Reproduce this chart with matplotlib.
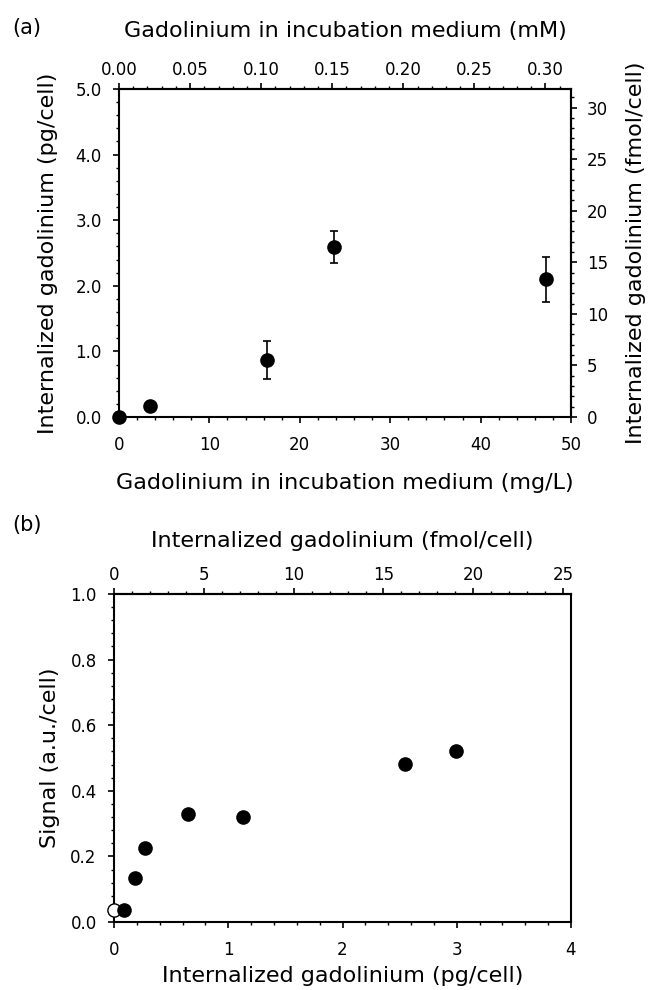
import numpy as np
import matplotlib.pyplot as plt
from matplotlib.ticker import MultipleLocator, FormatStrFormatter

plt.rcParams['font.family'] = ['DejaVu Sans']

GD = 157.25  # g/mol

# panel (a)
conc_mgL = [0, 3.4, 16.4, 23.8, 47.2]
gd_pg = [0, 0.17, 0.87, 2.59, 2.10]
gd_err = [0, 0, 0.29, 0.25, 0.34]

# panel (b)
open_x = [0.0]
open_y = [0.037]
filled_x = [0.085, 0.184, 0.272, 0.646, 1.125, 2.547, 2.99]
filled_y = [0.037, 0.135, 0.225, 0.329, 0.320, 0.481, 0.521]

W, H = 650, 990
fig = plt.figure(figsize=(6.5, 9.9), dpi=100)
ax1 = fig.add_axes([119/W, 1-417/H, 452/W, 328/H])
ax2 = fig.add_axes([114/W, 1-922/H, 457/W, 328/H])

tick_fs = 12
lab_fs = 16
lw = 1.5

def style(ax, pad=8):
    for s in ax.spines.values():
        s.set_linewidth(lw)
    ax.tick_params(which='major', direction='out', length=4.5, width=1.2, labelsize=tick_fs, pad=pad)
    ax.tick_params(which='minor', direction='out', length=2.5, width=1.0)

# ---- (a)
ax1.errorbar(conc_mgL, gd_pg, yerr=gd_err, fmt='o', color='black', ms=9.5,
             ecolor='black', elinewidth=1.2, capsize=3, capthick=1.2, clip_on=False, zorder=5)
ax1.set_xlim(0, 50)
ax1.set_ylim(0, 5)
ax1.xaxis.set_major_locator(MultipleLocator(10))
ax1.xaxis.set_minor_locator(MultipleLocator(2))
ax1.yaxis.set_major_locator(MultipleLocator(1))
ax1.yaxis.set_minor_locator(MultipleLocator(0.2))
ax1.yaxis.set_major_formatter(FormatStrFormatter('%.1f'))
style(ax1)
ax1.tick_params(axis='x', which='major', pad=9)

top1 = ax1.secondary_xaxis('top', functions=(lambda x: x/GD, lambda m: m*GD))
top1.xaxis.set_major_locator(MultipleLocator(0.05))
top1.xaxis.set_minor_locator(MultipleLocator(0.01))
top1.xaxis.set_major_formatter(FormatStrFormatter('%.2f'))
style(top1, pad=2.5)

right1 = ax1.secondary_yaxis('right', functions=(lambda p: p/GD*1000, lambda f: f*GD/1000))
right1.yaxis.set_major_locator(MultipleLocator(5))
right1.yaxis.set_minor_locator(MultipleLocator(1))
style(right1, pad=7)

ax1.xaxis.set_label_coords(0.5, (417-483)/328, transform=ax1.transAxes)
ax1.set_xlabel('Gadolinium in incubation medium (mg/L)', fontsize=lab_fs, va='center')
ax1.yaxis.set_label_coords((48-119)/452, 0.5, transform=ax1.transAxes)
ax1.set_ylabel('Internalized gadolinium (pg/cell)', fontsize=lab_fs, va='center')
top1.xaxis.set_label_coords(0.5, (417-31)/328, transform=ax1.transAxes)
top1.set_xlabel('Gadolinium in incubation medium (mM)', fontsize=lab_fs, va='center')
right1.yaxis.set_label_coords((636-119)/452, 0.5, transform=ax1.transAxes)
right1.set_ylabel('Internalized gadolinium (fmol/cell)', fontsize=lab_fs, va='center')

# ---- (b)
ax2.plot(open_x, open_y, 'o', mfc='white', mec='black', mew=1.0, ms=9.5, clip_on=False, zorder=4)
ax2.plot(filled_x, filled_y, 'o', color='black', ms=9.5, clip_on=False, zorder=5)
ax2.set_xlim(0, 4)
ax2.set_ylim(0, 1)
ax2.xaxis.set_major_locator(MultipleLocator(1))
ax2.xaxis.set_minor_locator(MultipleLocator(0.2))
ax2.yaxis.set_major_locator(MultipleLocator(0.2))
ax2.yaxis.set_minor_locator(MultipleLocator(0.04))
ax2.yaxis.set_major_formatter(FormatStrFormatter('%.1f'))
style(ax2)
ax2.tick_params(axis='x', which='major', pad=9)

top2 = ax2.secondary_xaxis('top', functions=(lambda p: p/GD*1000, lambda f: f*GD/1000))
top2.xaxis.set_major_locator(MultipleLocator(5))
top2.xaxis.set_minor_locator(MultipleLocator(1))
style(top2, pad=2.5)

ax2.xaxis.set_label_coords(0.5, (922-976)/328, transform=ax2.transAxes)
ax2.set_xlabel('Internalized gadolinium (pg/cell)', fontsize=lab_fs, va='center')
ax2.yaxis.set_label_coords((50-114)/457, 0.5, transform=ax2.transAxes)
ax2.set_ylabel('Signal (a.u./cell)', fontsize=lab_fs, va='center')
top2.xaxis.set_label_coords(0.5, (922-541)/328, transform=ax2.transAxes)
top2.set_xlabel('Internalized gadolinium (fmol/cell)', fontsize=lab_fs, va='center')

fig.text(12/W, 1-28/H, '(a)', fontsize=15, va='center', ha='left')
fig.text(12/W, 1-525/H, '(b)', fontsize=15, va='center', ha='left')

fig.savefig('out.png', dpi=100)
